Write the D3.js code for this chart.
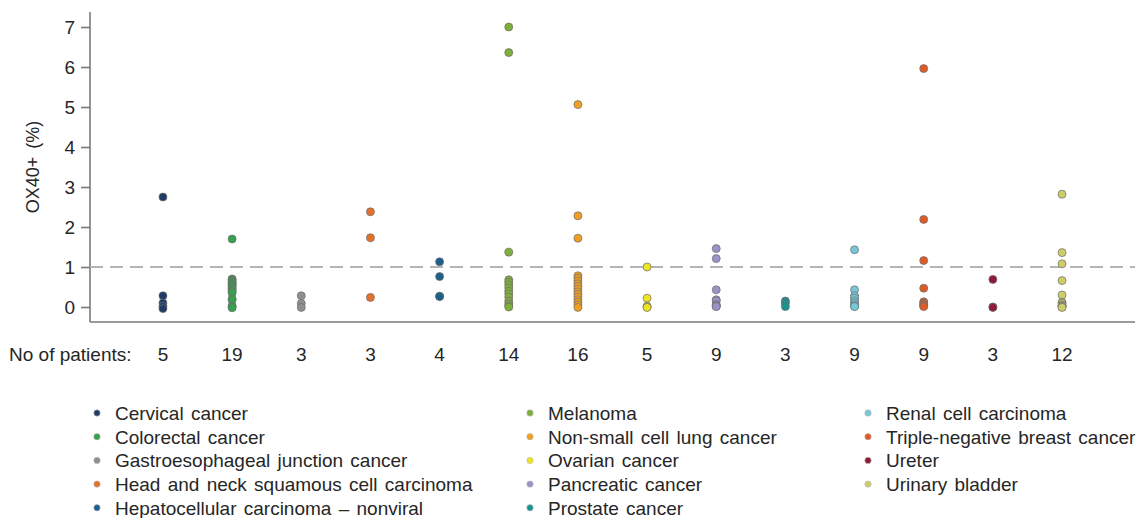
<!DOCTYPE html>
<html>
<head>
<meta charset="utf-8">
<script src="https://cdn.jsdelivr.net/npm/d3@7"></script>
<style>
  html, body { margin: 0; padding: 0; background: #fff; }
  svg { display: block; font-family: "Liberation Sans", Arial, sans-serif; }
</style>
</head>
<body>
<svg id="chart" width="1145" height="518"></svg>
<script>
// Tumour types, in plotting order
const categories = [
  "Cervical cancer",
  "Colorectal cancer",
  "Gastroesophageal junction cancer",
  "Head and neck squamous cell carcinoma",
  "Hepatocellular carcinoma \u2013 nonviral",
  "Melanoma",
  "Non-small cell lung cancer",
  "Ovarian cancer",
  "Pancreatic cancer",
  "Prostate cancer",
  "Renal cell carcinoma",
  "Triple-negative breast cancer",
  "Ureter",
  "Urinary bladder"
];

const colors = [
  "#1f3b66", "#35a24d", "#8f8f8f", "#e2712c", "#1b5f8c", "#7fae3c", "#efa023",
  "#eee423", "#9993c6", "#179392", "#77c7d7", "#de5a26", "#8d1b38", "#cdcd69"
];

const patientCounts = [5, 19, 3, 3, 4, 14, 16, 5, 9, 3, 9, 9, 3, 12];

// OX40+ (%) per patient, one list per tumour type
const cervical = [2.75, 0.28, 0.10, 0.02, -0.04];
const colorectal = [1.70, 0.70, 0.68, 0.65, 0.62, 0.60, 0.57, 0.55, 0.52, 0.48, 0.45, 0.42, 0.38, 0.35, 0.20, 0.18, 0.03, 0.0, -0.02];
const gastroesophageal = [0.28, 0.09, -0.01];
const headNeck = [2.38, 1.73, 0.24];
const hepatocellular = [1.13, 0.76, 0.27, 0.26];
const melanoma = [7.0, 6.36, 1.37, 0.68, 0.62, 0.55, 0.48, 0.40, 0.33, 0.25, 0.15, 0.08, 0.03, 0.0];
const nsclc = [5.06, 2.28, 1.72, 0.78, 0.72, 0.65, 0.58, 0.52, 0.45, 0.38, 0.32, 0.25, 0.18, 0.12, 0.05, -0.01];
const ovarian = [1.0, 0.22, 0.02, 0.0, -0.01];
const pancreatic = [1.46, 1.21, 0.43, 0.18, 0.15, 0.06, 0.03, 0.02, 0.01];
const prostate = [0.15, 0.10, 0.01];
const renal = [1.43, 0.43, 0.28, 0.22, 0.15, 0.10, 0.05, 0.02, 0.01];
const tnbc = [5.96, 2.19, 1.16, 0.47, 0.13, 0.10, 0.06, 0.03, 0.01];
const ureter = [0.69, 0.0, -0.01];
const urinaryBladder = [2.82, 1.36, 1.08, 0.66, 0.30, 0.12, 0.09, 0.05, 0.03, 0.02, 0.0, -0.01];

const seriesValues = [
  cervical, colorectal, gastroesophageal, headNeck, hepatocellular, melanoma, nsclc,
  ovarian, pancreatic, prostate, renal, tnbc, ureter, urinaryBladder
];

const yTicks = [0, 1, 2, 3, 4, 5, 6, 7];
const threshold = 1;

const svg = d3.select("#chart");

const x = d3.scalePoint().domain(categories).range([90, 1135]).padding(1.055);
const y = d3.scaleLinear().domain([-0.375, 7.375]).range([322, 12]);

const axisColor = "#7a7a7a";
const textColor = "#262626";
const fontSize = "19px";

// Y axis
const yAxis = svg.append("g")
  .attr("transform", "translate(90,0)")
  .call(d3.axisLeft(y).tickValues(yTicks).tickSize(9).tickPadding(6).tickFormat(d3.format("d")));
yAxis.select(".domain").attr("stroke", axisColor).attr("stroke-width", 1.6)
  .attr("d", `M0,${y.range()[1]}V${y.range()[0]}`);
yAxis.selectAll(".tick line").attr("stroke", axisColor).attr("stroke-width", 1.6);
yAxis.selectAll(".tick text").attr("fill", textColor).style("font-size", fontSize)
  .style("font-family", "'Liberation Sans', Arial, sans-serif");

// X axis baseline (no ticks)
const xAxis = svg.append("g")
  .attr("transform", `translate(0,${y.range()[0]})`)
  .call(d3.axisBottom(x).tickSize(0).tickFormat(""));
xAxis.select(".domain").attr("stroke", axisColor).attr("stroke-width", 1.6)
  .attr("d", `M${x.range()[0]},0H${x.range()[1]}`);

// Y axis title
svg.append("text")
  .attr("transform", `translate(39,${y(3.5)}) rotate(-90)`)
  .attr("text-anchor", "middle")
  .attr("fill", textColor)
  .style("font-size", "18px")
  .style("word-spacing", "3px")
  .text("OX40+ (%)");

// Reference line at 1%
svg.append("line")
  .attr("x1", x.range()[0]).attr("x2", x.range()[1])
  .attr("y1", y(threshold)).attr("y2", y(threshold))
  .attr("stroke", "#b4b4b4")
  .attr("stroke-width", 2)
  .attr("stroke-dasharray", "13,7");

// Patient dots
const points = [];
categories.forEach((c, i) => {
  seriesValues[i].forEach(v => points.push({ cat: c, value: v, color: colors[i] }));
});

svg.append("g").selectAll("circle")
  .data(points)
  .join("circle")
  .attr("cx", d => x(d.cat))
  .attr("cy", d => y(d.value))
  .attr("r", 4)
  .attr("fill", d => d.color)
  .attr("stroke", "#6e6e6e")
  .attr("stroke-opacity", 0.8)
  .attr("stroke-width", 0.9);

// Patient counts row
const countsRow = svg.append("g").style("font-size", fontSize).attr("fill", textColor);
countsRow.append("text")
  .attr("x", 9).attr("y", 361)
  .text("No of patients:");
countsRow.selectAll("text.count")
  .data(categories)
  .join("text")
  .attr("class", "count")
  .attr("x", d => x(d))
  .attr("y", 361)
  .attr("text-anchor", "middle")
  .text((d, i) => patientCounts[i]);

// Legend: three columns
const legendCols = [97, 530, 868];
const legendRows = 5;
const legend = svg.append("g").style("font-size", fontSize).style("word-spacing", "2px");
const items = legend.selectAll("g")
  .data(categories)
  .join("g")
  .attr("transform", (d, i) => {
    const col = Math.floor(i / legendRows);
    const row = i % legendRows;
    return `translate(${legendCols[col]},${413 + row * 23.7})`;
  });
items.append("circle")
  .attr("r", 3.2)
  .attr("fill", (d, i) => colors[i])
  .attr("stroke", "#bbb")
  .attr("stroke-width", 0.6);
items.append("text")
  .attr("x", 18)
  .attr("dy", "0.36em")
  .attr("fill", textColor)
  .text(d => d);
</script>
</body>
</html>
